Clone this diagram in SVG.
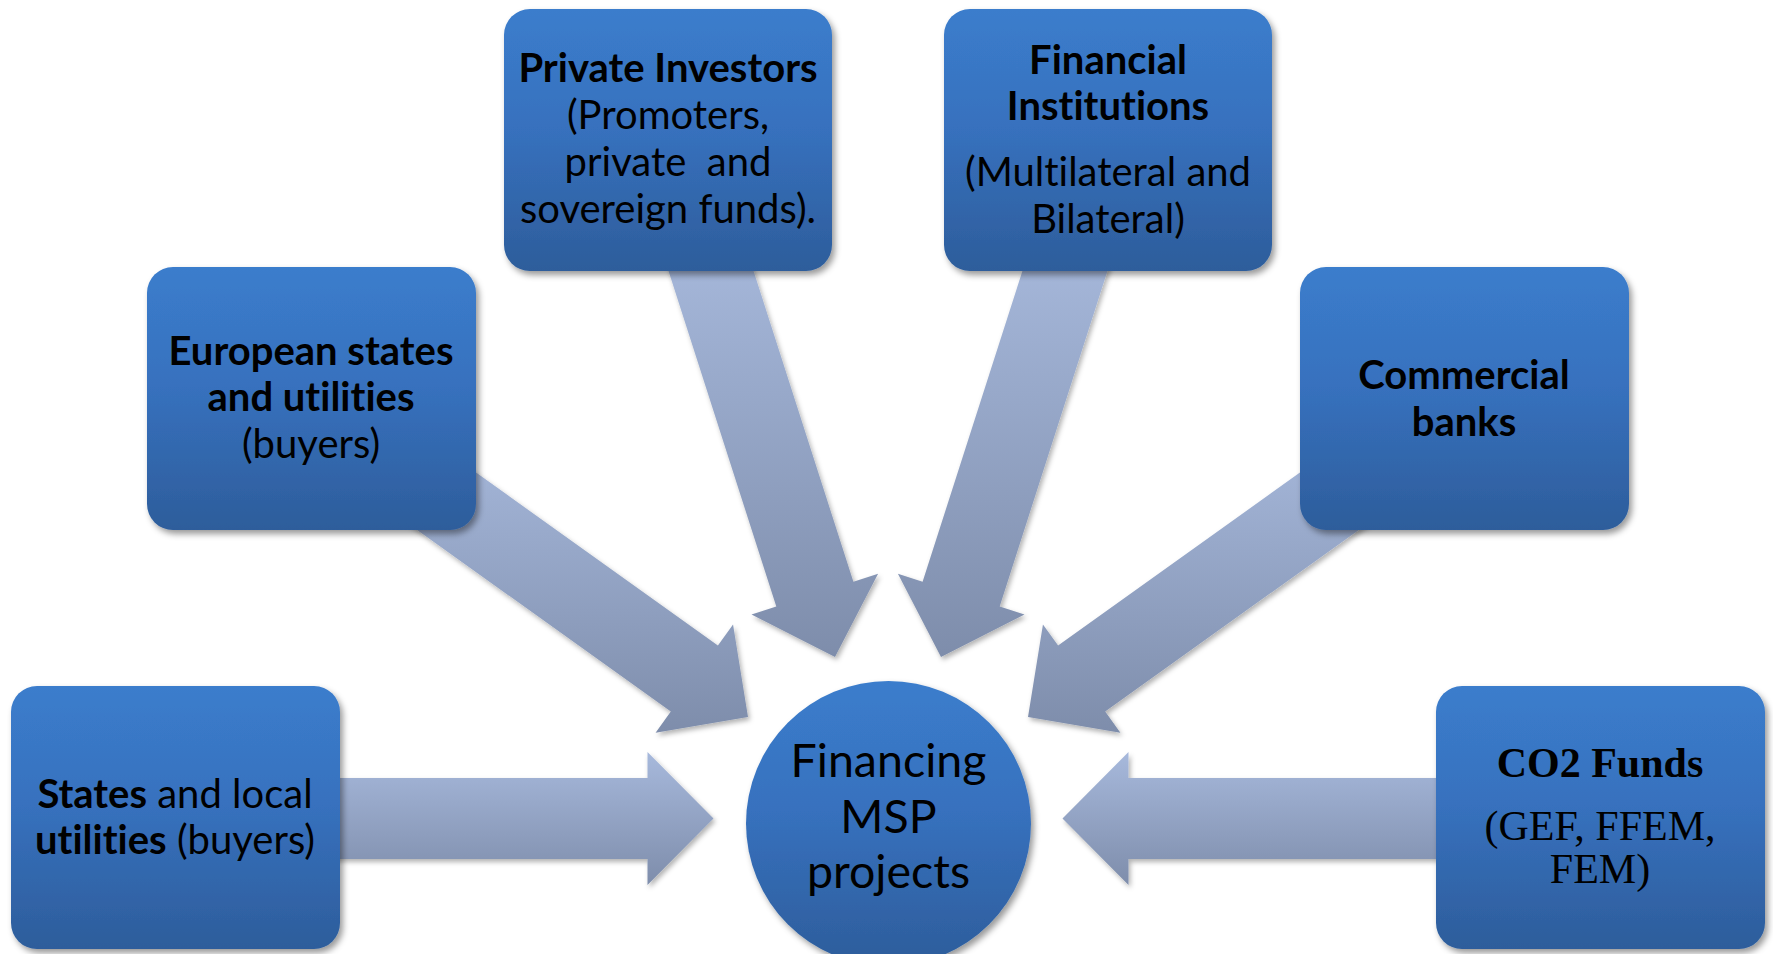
<svg xmlns="http://www.w3.org/2000/svg" width="1773" height="954" viewBox="0 0 1773 954">
<defs>
<linearGradient id="gBox" x1="0" y1="0" x2="0" y2="1">
<stop offset="0" stop-color="#3b7dcc"/>
<stop offset="0.45" stop-color="#3771be"/>
<stop offset="1" stop-color="#2d5d9b"/>
</linearGradient>
<linearGradient id="gArrow" x1="0" y1="0" x2="0" y2="1">
<stop offset="0" stop-color="#a7b9dc"/>
<stop offset="1" stop-color="#7e8dab"/>
</linearGradient>
<filter id="sh" x="-10%" y="-10%" width="125%" height="130%">
<feDropShadow dx="3" dy="4" stdDeviation="3" flood-color="#000" flood-opacity="0.4"/>
</filter>
<filter id="shA" x="-10%" y="-10%" width="125%" height="130%">
<feDropShadow dx="2" dy="3" stdDeviation="2.5" flood-color="#000" flood-opacity="0.3"/>
</filter>
</defs>
<style>
.box{fill:url(#gBox);filter:url(#sh)}
.arr{fill:url(#gArrow);filter:url(#shA)}
text{fill:#000;text-anchor:middle;font-variant-ligatures:none;font-feature-settings:"liga" 0}
.s{font-family:Lato,"Liberation Sans",sans-serif;font-size:40px}
.b{font-weight:bold}
.c{font-family:Lato,"Liberation Sans",sans-serif;font-size:46.5px}
.t{font-family:"Liberation Serif","Times New Roman",serif;font-size:42px}
</style>
<rect width="1773" height="954" fill="#fff"/>
<g id="connectors">
<polygon class="arr" points="293.5,778 647.5,778 647.5,752 713.5,818.5 647.5,885 647.5,859 293.5,859"/>
<polygon class="arr" points="413.8,428 717.9,645.6 733.05,624.5 748,717 655.6,732.65 670.8,711.5 366.6,493.8"/>
<polygon class="arr" points="742.1,235.2 853.4,581.8 878.1,573.8 835,657 751.5,614.5 776.3,606.5 665,260"/>
<polygon class="arr" points="1033.9,235.2 922.6,581.8 897.9,573.8 941,657 1024.5,614.5 999.7,606.5 1111,260"/>
<polygon class="arr" points="1362.2,428 1058.1,645.6 1042.95,624.5 1028,717 1120.4,732.65 1105.2,711.5 1409.4,493.8"/>
<polygon class="arr" points="1482.5,778 1128.5,778 1128.5,752 1062.5,818.5 1128.5,885 1128.5,859 1482.5,859"/>
</g>
<g id="states">
<rect class="box" x="11" y="686" width="329" height="263" rx="26"/>
<text class="s" x="175" y="808"><tspan class="b">States</tspan> and local</text>
<text class="s" x="175" y="854"><tspan class="b">utilities</tspan> (buyers)</text>
</g>
<g id="european">
<rect class="box" x="147" y="267" width="329" height="263" rx="26"/>
<text class="s b" x="311" y="365">European states</text>
<text class="s b" x="311" y="411">and utilities</text>
<text class="s" x="311" y="458">(buyers)</text>
</g>
<g id="private">
<rect class="box" x="504" y="9" width="328" height="262" rx="26"/>
<text class="s b" x="668" y="82">Private Investors</text>
<text class="s" x="668" y="129">(Promoters,</text>
<text class="s" x="668" y="176" xml:space="preserve">private  and</text>
<text class="s" x="668" y="223">sovereign funds).</text>
</g>
<g id="financial">
<rect class="box" x="944" y="9" width="328" height="262" rx="26"/>
<text class="s b" x="1108" y="74">Financial</text>
<text class="s b" x="1108" y="120">Institutions</text>
<text class="s" x="1108" y="186">(Multilateral and</text>
<text class="s" x="1108" y="233">Bilateral)</text>
</g>
<g id="commercial">
<rect class="box" x="1300" y="267" width="329" height="263" rx="26"/>
<text class="s b" x="1464" y="389">Commercial</text>
<text class="s b" x="1464" y="436">banks</text>
</g>
<g id="co2">
<rect class="box" x="1436" y="686" width="329" height="263" rx="26"/>
<text class="t b" x="1600" y="777">CO2 Funds</text>
<text class="t" x="1600" y="840">(GEF, FFEM,</text>
<text class="t" x="1600" y="883">FEM)</text>
</g>
<g id="center">
<circle class="box" cx="888.5" cy="823.5" r="142.5"/>
<text class="c" x="888.5" y="777">Financing</text>
<text class="c" x="888.5" y="833">MSP</text>
<text class="c" x="888.5" y="888">projects</text>
</g>
</svg>
